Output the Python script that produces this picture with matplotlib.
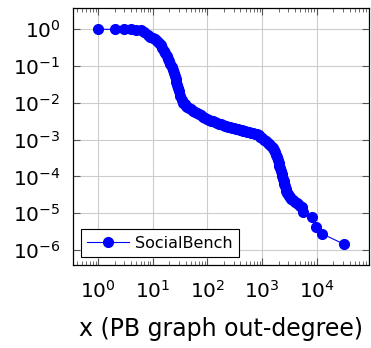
import matplotlib
matplotlib.use('Agg')
import matplotlib.pyplot as plt
from matplotlib.ticker import LogLocator, NullFormatter

# degree values and fraction of nodes with out-degree >= x
degree = [1, 2, 3, 4, 5, 6, 7, 8, 9, 10, 11, 12, 13, 14, 15, 16, 17, 18, 19, 20,
          21, 22, 23, 24, 25, 26, 27, 28, 29, 30, 32, 34, 36, 38, 40, 43, 46,
          50, 55, 60, 65, 70, 76, 83, 90, 97, 105, 115, 125, 135, 147, 160, 175,
          190, 205, 222, 240, 260, 282, 305, 330, 357, 387, 420, 455, 492, 533,
          577, 625, 677, 733, 794, 860, 930, 1007, 1090, 1180, 1260, 1340, 1420,
          1500, 1580, 1650, 1720, 1790, 1860, 1930, 2000, 2070, 2140, 2210, 2280,
          2350, 2420, 2490, 2560, 2630, 2700, 2780, 2870, 2960, 3080, 3240, 3450,
          3700, 4000, 4300, 4600, 5000, 5300, 5690, 8100, 9700, 12300, 31600]
ccdf = [1.0, 1.0, 1.0, 1.0, 0.98, 0.94, 0.85, 0.69, 0.63, 0.59, 0.53, 0.49, 0.43,
        0.38, 0.31, 0.26, 0.22, 0.185, 0.158, 0.135, 0.115, 0.096, 0.08, 0.066,
        0.055, 0.044, 0.036, 0.030, 0.025, 0.0207, 0.0151, 0.0118, 0.0101,
        0.0092, 0.0084, 0.0076, 0.0072,
        0.0067, 0.00614, 0.00562, 0.00521, 0.0049, 0.00455, 0.00419, 0.00391,
        0.00372, 0.00352, 0.0033, 0.00312, 0.00299, 0.00284, 0.00272, 0.00259,
        0.00248, 0.00239, 0.0023, 0.00221, 0.00216, 0.00209, 0.00204, 0.00198,
        0.00192, 0.00187, 0.00181, 0.00177, 0.00171, 0.00166, 0.00161, 0.00155,
        0.00149, 0.00144, 0.00138, 0.0013, 0.0012, 0.00109, 0.00099, 0.00091,
        0.00082, 0.00076, 0.0007, 0.00064, 0.00058, 0.00052, 0.00045, 0.00039,
        0.00033, 0.000275, 0.000229, 0.000195, 0.000167, 0.000138, 0.000118,
        0.000101, 8.7e-5, 7.4e-5, 6.3e-5, 5.4e-5, 4.6e-5, 4.1e-5, 3.6e-5,
        3.3e-5, 3.0e-5, 2.7e-5, 2.5e-5, 2.25e-5, 2.08e-5, 1.93e-5, 1.75e-5,
        1.6e-5, 1.48e-5, 1.1e-5, 8e-6, 4.3e-6, 2.8e-6, 1.44e-6]

plt.rcParams['font.family'] = 'DejaVu Sans'
plt.rcParams['mathtext.fontset'] = 'dejavusans'

fig = plt.figure(figsize=(3.71, 3.48), dpi=100)
ax = fig.add_axes([73/371, 1-265/348, (369-73)/371, (265-8)/348])

ax.plot(degree, ccdf, '-o', color='#0000ff', lw=0.8, ms=7,
        mec='#0000ff', label='SocialBench', zorder=3)

ax.set_xscale('log')
ax.set_yscale('log')
ax.set_xlim(10**-0.463, 10**4.958)
ax.set_ylim(10**-6.408, 10**0.579)

ax.xaxis.set_major_locator(LogLocator(base=10, numticks=10))
ax.xaxis.set_minor_locator(LogLocator(base=10, subs=range(2, 10), numticks=10))
ax.xaxis.set_minor_formatter(NullFormatter())
ax.yaxis.set_major_locator(LogLocator(base=10, numticks=10))
ax.yaxis.set_minor_locator(plt.NullLocator())

ax.grid(True, which='major', color='#cccccc', lw=0.8)
ax.set_axisbelow(True)
ax.tick_params(which='both', direction='in', top=True, right=True,
               labelsize=14.5, color='#555555')
ax.tick_params(which='major', length=5, width=0.8)
ax.tick_params(axis='x', which='major', pad=11)
ax.tick_params(axis='y', which='major', pad=9)
ax.tick_params(which='minor', length=3, width=0.6)
for s in ax.spines.values():
    s.set_linewidth(0.9)

ax.set_xlabel('x (PB graph out-degree)', fontsize=17, labelpad=11)

leg = ax.legend(loc='lower left', fontsize=11.5, fancybox=False, framealpha=1,
                edgecolor='black', handlelength=2.6, handletextpad=0.4,
                borderaxespad=0.5, borderpad=0.4)
leg.get_frame().set_linewidth(0.8)

fig.savefig('out.png', dpi=100)
